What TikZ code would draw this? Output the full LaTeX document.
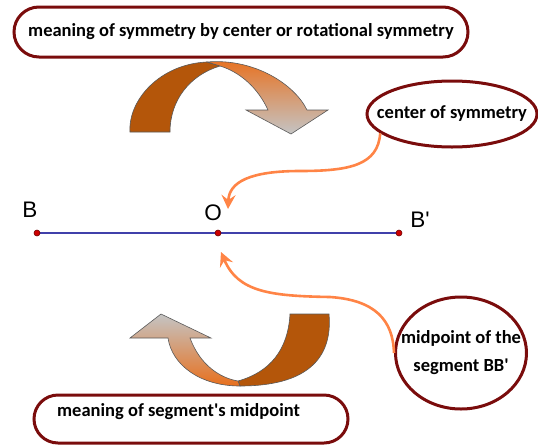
\documentclass[tikz,border=0pt]{standalone}
\usepackage{fontspec}
\setmainfont{Carlito}
\newfontfamily\lblfont{Liberation Sans}
\usetikzlibrary{arrows.meta,positioning,shapes.geometric,shapes.misc,backgrounds}
\definecolor{rim}{RGB}{122,12,12}
\definecolor{flow}{RGB}{255,132,70}
\definecolor{seg}{RGB}{64,64,170}
\definecolor{dot}{RGB}{205,0,0}
\definecolor{rust}{RGB}{180,86,10}
\definecolor{flame}{RGB}{232,112,30}
\definecolor{ash}{RGB}{196,196,196}
\tikzset{
  banner/.style={rounded rectangle,draw=rim,line width=3pt,inner sep=0pt,
                 font=\fontsize{18.5}{28}\selectfont\bfseries},
  ring/.style={ellipse,draw=rim,line width=3pt,inner sep=0pt},
  txt/.style={font=\fontsize{18.5}{28}\selectfont\bfseries,align=center,inner sep=0pt},
  link/.style={-{Stealth[length=14pt,width=14pt,inset=5pt]},line width=2.6pt,draw=flow},
  pt/.style={circle,fill=dot,draw=dot!55!black,line width=0.6pt,minimum size=6pt,inner sep=0pt},
  ptlbl/.style={font=\lblfont\fontsize{22.5}{24}\selectfont,inner sep=0pt},
  ribbon/.style={draw=black!65,line width=0.6pt},
}

\begin{document}
\begin{tikzpicture}[x=1pt,y=-1pt]
  \useasboundingbox (0,0) rectangle (538,445);
  \node[banner,minimum width=454pt,minimum height=50pt] (title) at (241,32) {meaning of symmetry by center or rotational symmetry};
  \node[ring,minimum width=170pt,minimum height=66pt] (center) at (452,114) {};
  \node[txt] (centertxt) at (center) {center of symmetry};
  \node[ring,minimum width=131pt,minimum height=112pt] (mid) at (461,353) {};
  \node[txt] (midtxt) at (mid) {midpoint of the\\segment BB\textquotesingle};
  \node[banner,minimum width=314pt,minimum height=48pt] (meaning) at (191,419) {};
  \node[txt,anchor=west] (meaningtxt) at (57,412) {meaning of segment\textquotesingle s midpoint};
  % turning arrows
  \draw[ribbon,fill=rust] (130,132) .. controls (128,100) and (160,64) .. (207,62) -- (220,66)
        .. controls (190,75) and (170,100) .. (170,132) -- cycle;
  \draw[ribbon,top color=flame,bottom color=ash] (207,62) .. controls (255,58) and (295,85) .. (307,110)
        -- (328,110) -- (291,134) -- (246,110) -- (268,110) .. controls (258,88) and (240,72) .. (220,66) -- cycle;
  \draw[ribbon,fill=rust] (290,314) -- (329,314) .. controls (333,360) and (305,386) .. (240,386) -- (238,381)
        .. controls (270,372) and (288,350) .. (290,314) -- cycle;
  \draw[ribbon,top color=ash,bottom color=flame] (240,386) .. controls (200,386) and (172,365) .. (168,338)
        -- (130,338) -- (161,314) -- (211,338) -- (190,338) .. controls (200,365) and (220,378) .. (238,381) -- cycle;
  % segment
  \node[pt] (B) at (37,233) {};
  \node[pt] (O) at (218,233) {};
  \node[pt] (Bp) at (399,233) {};
  \begin{pgfonlayer}{background}
    \draw[seg,line width=1.5pt] (B.center) -- (O.center) -- (Bp.center);
  \end{pgfonlayer}
  \node[ptlbl] (lB) at (30,210) {B};
  \node[ptlbl] (lO) at (213,213) {O};
  \node[ptlbl] (lBp) at (420,220) {B\textquotesingle};
  \coordinate (Otop) at (228,209);
  \coordinate (Obot) at (221,252);
  \draw[link] (center.195) .. controls (378,165) and (350,171) .. (300,171)
        .. controls (250,171) and (229,182) .. (Otop);
  \draw[link] (mid.west) .. controls (393,320) and (375,300) .. (330,297)
        .. controls (270,296) and (238,292) .. (Obot);
\end{tikzpicture}
\end{document}
